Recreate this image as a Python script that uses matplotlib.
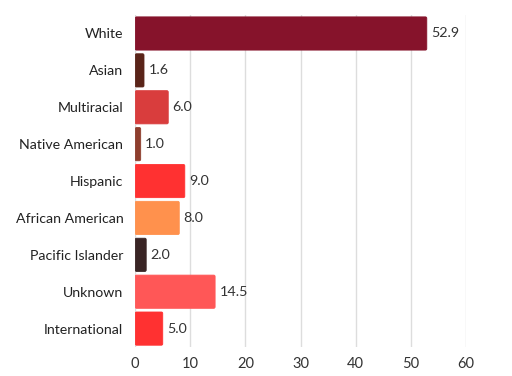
import matplotlib.pyplot as plt
from matplotlib.patches import FancyBboxPatch

categories = ['White', 'Asian', 'Multiracial', 'Native American', 'Hispanic',
              'African American', 'Pacific Islander', 'Unknown', 'International']
values = [52.9, 1.6, 6.0, 1.0, 9.0, 8.0, 2.0, 14.5, 5.0]
colors = ['#86132B', '#5A2419', '#D93D3D', '#8E3E2E', '#FF3131',
          '#FF914D', '#3A2525', '#FF5757', '#FF3131']
xticks = [0, 10, 20, 30, 40, 50, 60]

plt.rcParams['font.family'] = ['Lato', 'DejaVu Sans']

fig = plt.figure(figsize=(5.12, 3.76), dpi=100)
ax = fig.add_axes([0.264, 0.077, 0.646, 0.883])

ypos = list(range(len(categories)))
bars = ax.barh(ypos, values, height=0.9, color=colors, edgecolor='none', zorder=3)
# round the corners a little
for b, c in zip(bars, colors):
    b.set_visible(False)
    x0, y0 = b.get_x(), b.get_y()
    w, h = b.get_width(), b.get_height()
    p = FancyBboxPatch((x0, y0), w, h, boxstyle='round,pad=0,rounding_size=0.25',
                       mutation_aspect=0.15, facecolor=c, edgecolor=c, lw=0.6, zorder=3)
    ax.add_patch(p)

for y, v in zip(ypos, values):
    ax.text(v + 0.8, y, '%.1f' % v, va='center', ha='left', fontsize=10.3, color='#333333')

ax.set_xlim(0, 60)
ax.set_ylim(len(categories) - 0.5, -0.5)
ax.set_yticks(ypos)
ax.set_yticklabels(categories, fontsize=10.2, color='#222222')
ax.set_xticks(xticks)
ax.set_xticklabels([str(t) for t in xticks], fontsize=10.5, color='#333333')
ax.tick_params(axis='y', length=0, pad=8.5)
ax.tick_params(axis='x', length=0, pad=7)
ax.xaxis.grid(True, color='#DDDDDD', lw=1, zorder=0)
for s in ax.spines.values():
    s.set_visible(False)

fig.savefig('out.png', dpi=100)
